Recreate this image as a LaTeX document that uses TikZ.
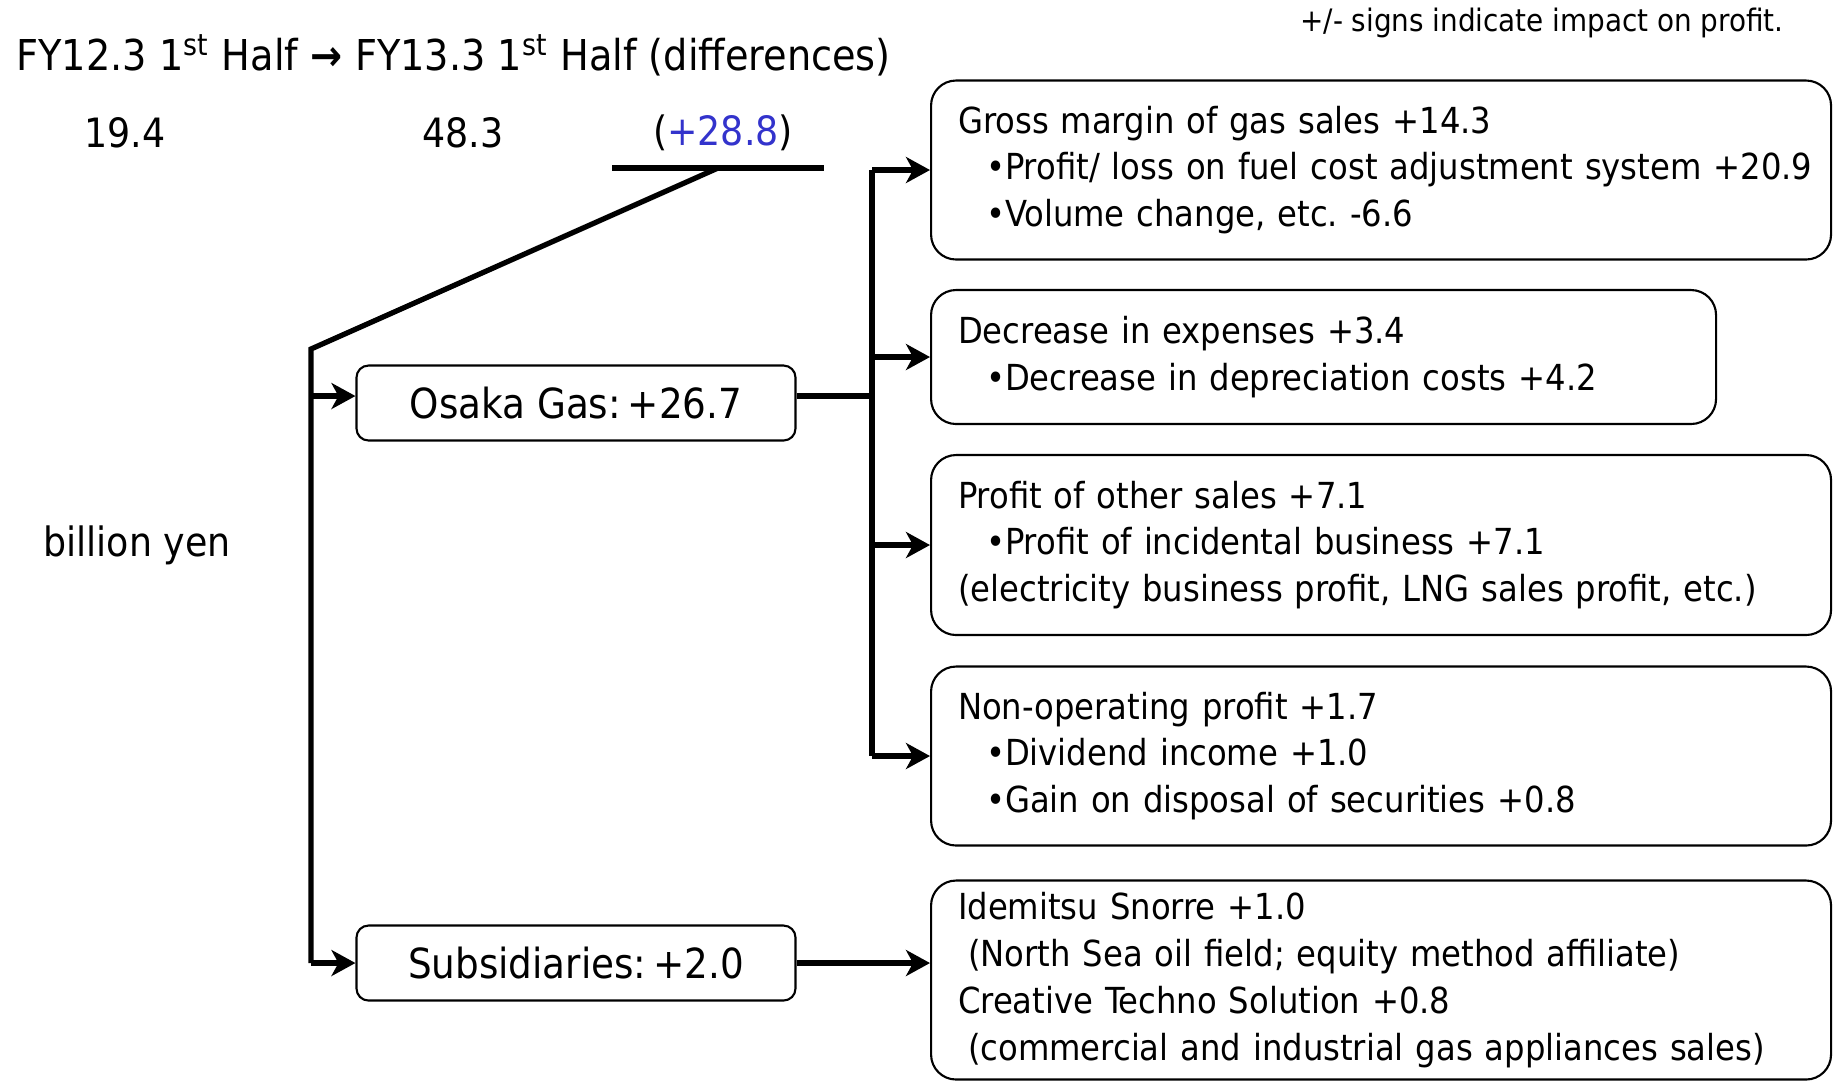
\documentclass[tikz,border=0pt]{standalone}
\usepackage{fontspec}
\setmainfont{DejaVu Sans Condensed}
\usepackage{tikz}
\usetikzlibrary{arrows.meta,positioning}
\definecolor{diffblue}{HTML}{3333CC}

\begin{document}
\begin{tikzpicture}[x=0.1mm,y=-0.1mm,
  every node/.style={font=\fontsize{10.2}{13.3}\selectfont},
  detail/.style={draw,rounded corners=2.5mm,line width=0.6pt,align=left,anchor=west,
    inner xsep=2.7mm,inner ysep=0pt,text width=84.6mm},
  part/.style={draw,rounded corners=1.2mm,line width=0.6pt,minimum width=43.9mm,
    minimum height=7.5mm,font=\fontsize{11.8}{14}\selectfont},
  link/.style={line width=1.5pt},
  arr/.style={link,-{Stealth[length=2.4mm,width=2.6mm,inset=0.7mm]}}]
  \useasboundingbox (0,0) rectangle (1838,1083);
  % heading and note
  \node[anchor=west,font=\fontsize{12.1}{14}\selectfont] (head) at (4,55)
    {FY12.3 1\textsuperscript{st} Half \textbf{→} FY13.3 1\textsuperscript{st} Half (differences)};
  \node[anchor=east,font=\fontsize{8.8}{10}\selectfont] (note) at (1796,23)
    {+/- signs indicate impact on profit.};
  % totals
  \node[font=\fontsize{11.5}{14}\selectfont] (prev) at (125,133) {19.4};
  \node[font=\fontsize{11.5}{14}\selectfont] (curr) at (463,133) {48.3};
  \node[font=\fontsize{11.5}{14}\selectfont] (diff) at (723,133) {(\textcolor{diffblue}{+28.8})};
  \node[font=\fontsize{11.5}{14}\selectfont] (unit) at (137,545) {billion yen};
  % breakdown by segment
  \node[part] (osaka) at (576,403) {Osaka Gas:\,+26.7};
  \node[part] (subs) at (576,963) {Subsidiaries:\,+2.0};
  % details
  \node[detail,minimum height=17.9mm] (gross) at (930,170) {Gross margin of gas sales +14.3\\
    \mbox{\hspace*{2.8mm}•Profit/ loss on fuel cost adjustment system +20.9}\\
    \hspace*{2.8mm}•Volume change, etc.\ -6.6};
  \node[detail,minimum height=13.4mm,text width=73.1mm] (expense) at (930,357) {Decrease in expenses +3.4\\
    \hspace*{2.8mm}•Decrease in depreciation costs +4.2};
  \node[detail,minimum height=18mm] (other) at (930,545) {Profit of other sales +7.1\\
    \hspace*{2.8mm}•Profit of incidental business +7.1\\
    (electricity business profit, LNG sales profit, etc.)};
  \node[detail,minimum height=17.9mm] (nonop) at (930,756) {Non-operating profit +1.7\\
    \hspace*{2.8mm}•Dividend income +1.0\\
    \hspace*{2.8mm}•Gain on disposal of securities +0.8};
  \node[detail,minimum height=19.9mm] (affil) at (930,980) {Idemitsu Snorre +1.0\\
    \hspace*{1mm}(North Sea oil field; equity method affiliate)\\
    Creative Techno Solution +0.8\\
    \hspace*{1mm}(commercial and industrial gas appliances sales)};
  % tree connectors
  \coordinate (ul) at (612,168);
  \coordinate (ur) at (824,168);
  \coordinate (um) at (718,168);
  \coordinate (bend) at (311,349);
  \coordinate (split) at (872,396);
  \draw[link] (ul) -- (ur);
  \draw[link] (um) -- (bend) -- (bend |- subs);
  \draw[arr] (bend |- split) -- (split -| osaka.west);
  \draw[arr] (bend |- subs) -- (subs);
  \draw[link] (split -| osaka.east) -- (split);
  \draw[link] (split |- gross) -- (split |- nonop);
  \foreach \n in {gross,expense,other,nonop}{
     \draw[arr] (split |- \n) -- (\n.west);
  }
  \draw[arr] (subs) -- (subs -| affil.west);
\end{tikzpicture}
\end{document}
